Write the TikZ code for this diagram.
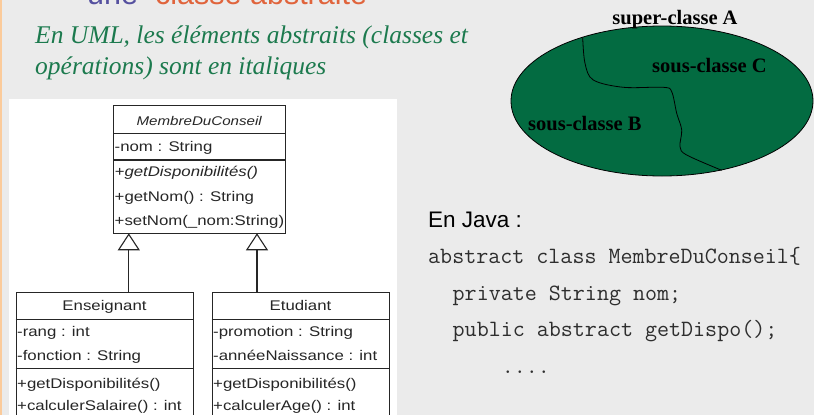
\documentclass[tikz,border=0pt]{standalone}
\usepackage{fontspec}
\setmainfont{Liberation Serif}
\setsansfont{Liberation Sans}
\newfontfamily\umlfont[FakeStretch=1.2]{Liberation Sans}
\usetikzlibrary{arrows.meta}
\definecolor{bgc}{HTML}{EBEBEB}
\definecolor{strip}{HTML}{FBCB9B}
\definecolor{titlepurple}{HTML}{55509F}
\definecolor{titleorange}{HTML}{E0643C}
\definecolor{notegreen}{HTML}{1C7A4E}
\definecolor{ellgreen}{HTML}{036B41}
\definecolor{codegray}{HTML}{2E2E2E}
\begin{document}
\begin{tikzpicture}[x=1pt,y=-1pt,
  umlbox/.style={draw=black!85, line width=1.1pt, fill=white, inner sep=0pt, anchor=north west},
  umltxt/.style={anchor=base west, inner sep=0pt, font=\umlfont\fontsize{14}{16}\selectfont, text=black!85},
  umlhead/.style={anchor=base, inner sep=0pt, font=\umlfont\fontsize{14}{16}\selectfont, text=black!85},
  sep/.style={draw=black!85, line width=1.1pt},
  inh/.style={draw=black!85, line width=1.1pt, -{Triangle[open, length=17pt, width=22pt]}},
  title/.style={anchor=base west, inner sep=0pt, font=\sffamily\fontsize{30.5}{34}\selectfont},
  note/.style={anchor=base west, inner sep=0pt, font=\itshape\fontsize{25.5}{30}\selectfont, text=notegreen},
  setlbl/.style={anchor=base west, inner sep=0pt, font=\bfseries\fontsize{20.5}{24}\selectfont, text=black},
  code/.style={anchor=base west, inner sep=0pt, font=\ttfamily\fontsize{23.35}{26}\selectfont, text=codegray}]
\clip (0,0) rectangle (814,415);
\fill[bgc] (0,0) rectangle (814,415);
\fill[strip] (0,0) rectangle (1.5,415);
% title (cut off at top)
\node[title, text=titlepurple] (t1) at (87,5) {une};
\node[title, text=titleorange] (t2) at (155,5) {classe abstraite};
% note
\node[note] (n1) at (35,43.7) {En UML, les éléments abstraits (classes et};
\node[note] (n2) at (35,74) {opérations) sont en italiques};
% white panel
\fill[white] (9,99) rectangle (397,420);
% class MembreDuConseil
\node[umlbox, minimum width=171.7pt, minimum height=128.3pt] (mdc) at (113.3,105) {};
\draw[sep] (113.3,133.3) -- (285,133.3);
\draw[sep] (113.3,160) -- (285,160);
\node[umlhead, font=\umlfont\itshape\fontsize{12.6}{14}\selectfont] (mdch) at (199.2,125) {MembreDuConseil};
\node[umltxt] (mdc1) at (114.5,151) {-nom : String};
\node[umltxt, font=\umlfont\itshape\fontsize{14}{16}\selectfont] (mdc2) at (114.5,176) {+getDisponibilités()};
\node[umltxt] (mdc3) at (114.5,201.7) {+getNom() : String};
\node[umltxt] (mdc4) at (114.5,225) {+setNom(\_nom:String)};
% class Enseignant
\node[umlbox, minimum width=177.6pt, minimum height=140pt] (ens) at (15.7,291.7) {};
\draw[sep] (15.7,319.3) -- (193.3,319.3);
\draw[sep] (15.7,368.3) -- (193.3,368.3);
\node[umlhead] (ensh) at (104.5,310.7) {Enseignant};
\node[umltxt] (ens1) at (17,336.7) {-rang : int};
\node[umltxt] (ens2) at (17,360.7) {-fonction : String};
\node[umltxt] (ens3) at (17,388.3) {+getDisponibilités()};
\node[umltxt] (ens4) at (17,410) {+calculerSalaire() : int};
% class Etudiant
\node[umlbox, minimum width=177.6pt, minimum height=140pt] (etu) at (211.7,291.7) {};
\draw[sep] (211.7,319.3) -- (389.3,319.3);
\draw[sep] (211.7,368.3) -- (389.3,368.3);
\node[umlhead] (etuh) at (300.5,310.7) {Etudiant};
\node[umltxt] (etu1) at (213,336.7) {-promotion : String};
\node[umltxt] (etu2) at (213,360.7) {-annéeNaissance : int};
\node[umltxt] (etu3) at (213,388.3) {+getDisponibilités()};
\node[umltxt] (etu4) at (213,410) {+calculerAge() : int};
% inheritance
\coordinate (tipL) at (128.8,233.3);
\coordinate (tipR) at (257,233.3);
\draw[inh] (ens.north -| tipL) -- (tipL);
\draw[inh] (etu.north -| tipR) -- (tipR);
% ellipse (sets)
\filldraw[fill=ellgreen, draw=black, line width=0.8pt] (662,101) ellipse [x radius=151, y radius=75];
\draw[black, line width=0.8pt] plot[smooth, tension=0.55] coordinates {(582.7,37.5) (585,63.3) (593.3,80) (623.3,87.3) (663.3,87.3) (671.7,91.7) (676.7,113.3) (681.7,130) (680,146.7) (686.7,155) (721.7,170.3)};
\node[setlbl, anchor=base] (sa) at (675,24) {super-classe A};
\node[setlbl] (sc) at (652,72) {sous-classe C};
\node[setlbl] (sb) at (528,130) {sous-classe B};
% Java
\node[anchor=base west, inner sep=0pt, font=\sffamily\fontsize{22.5}{26}\selectfont] (jv) at (428,227) {En Java :};
\node[code] (c1) at (428,263) {abstract class MembreDuConseil\{};
\node[code] (c2) at (452.5,300) {private String nom;};
\node[code] (c3) at (452.5,336.7) {public abstract getDispo();};
\node[code] (c4) at (501.6,373) {....};
\end{tikzpicture}
\end{document}
